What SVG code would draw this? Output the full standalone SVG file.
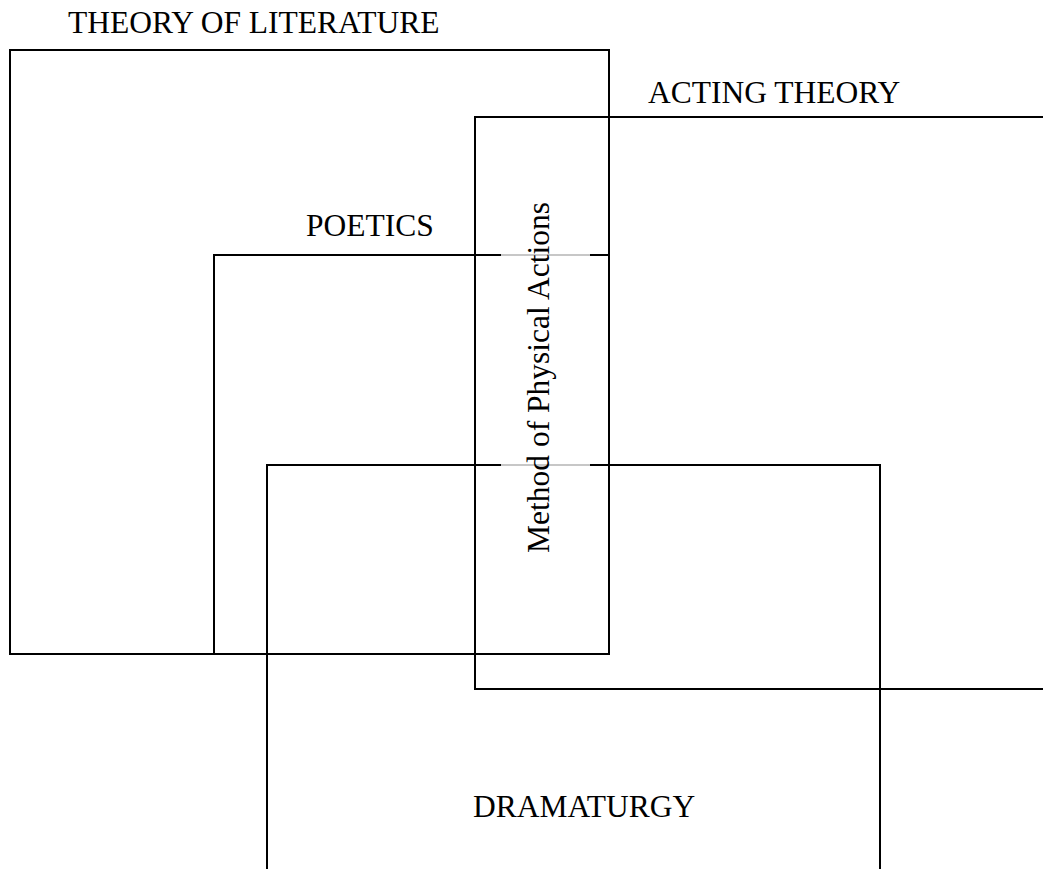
<svg xmlns="http://www.w3.org/2000/svg" width="1043" height="869" viewBox="0 0 1043 869">
<style>
.box{fill:none;stroke:#000;stroke-width:2}
.lbl{font-family:"Liberation Serif","Times New Roman",serif;font-size:31.5px;fill:#000}
</style>
<rect width="1043" height="869" fill="#fff"/>
<g id="theory-of-literature">
<rect class="box" x="10" y="50" width="599" height="604"/>
<text class="lbl" x="68" y="33">THEORY OF LITERATURE</text>
</g>
<g id="acting-theory">
<rect class="box" x="475" y="117" width="600" height="572"/>
<text class="lbl" x="648" y="103">ACTING THEORY</text>
</g>
<g id="poetics">
<rect class="box" x="214" y="255" width="395" height="399"/>
<text class="lbl" x="306" y="236">POETICS</text>
</g>
<g id="dramaturgy">
<rect class="box" x="267" y="465" width="613" height="420"/>
<text class="lbl" x="473" y="817">DRAMATURGY</text>
</g>
<g id="connectors"></g>
<g id="method-of-physical-actions">
<rect x="501" y="190" width="89" height="375" fill="#fff" fill-opacity="0.78"/>
<text class="lbl" transform="translate(549,377.5) rotate(-90)" text-anchor="middle">Method of Physical Actions</text>
</g>
</svg>
